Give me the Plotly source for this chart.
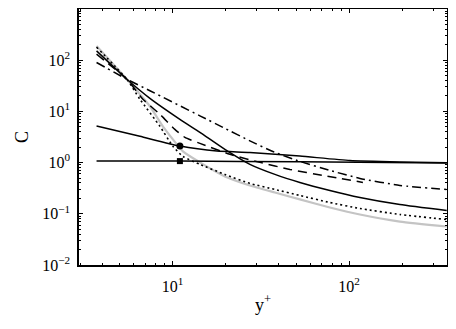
import plotly.graph_objects as go

# ---- data ----
gray_x = [3.71, 5.51, 7.44, 8.81, 11.44, 14.28, 19.78, 27.40, 37.96, 52.58, 77.75, 115.0, 193.7, 357.0]
gray_y = [190, 42.5, 12.6, 5.1, 1.66, 1.01, 0.537, 0.358, 0.261, 0.191, 0.133, 0.0969, 0.0706, 0.0564]

dot_x = [3.71, 5.51, 6.53, 8.48, 10.04, 11.44, 14.28, 19.78, 27.40, 37.96, 52.58, 77.75, 115.0, 193.7, 357.0]
dot_y = [180, 42.5, 17.3, 5.1, 2.08, 1.32, 0.923, 0.588, 0.392, 0.299, 0.228, 0.166, 0.127, 0.0969, 0.0773]

solid_x = [3.71, 5.51, 7.44, 11.0, 14.28, 19.78, 27.40, 37.96, 52.58, 77.75, 115.0, 193.7, 357.0]
solid_y = [152, 42.5, 18.0, 7.0, 3.9, 1.81, 0.923, 0.588, 0.410, 0.286, 0.209, 0.152, 0.116]

dashdot_x = [3.71, 5.51, 7.44, 14.28, 19.78, 27.40, 37.96, 52.58, 77.75, 115.0, 193.7, 357.0]
dashdot_y = [90.2, 42.5, 25.3, 8.2, 4.67, 2.66, 1.58, 1.056, 0.704, 0.491, 0.358, 0.299]

dash_x = [3.71, 5.51, 6.79, 8.48, 10.30, 11.74, 14.28, 21.11, 31.22, 46.16, 70.98, 119.6]
dash_y = [131, 42.5, 17.3, 8.77, 4.46, 3.11, 2.37, 1.45, 1.01, 0.736, 0.562, 0.410]

circ_x = [3.71, 6.53, 11.0, 17.82, 27.40, 52.58, 100.9, 193.7, 357.0]
circ_y = [5.18, 3.26, 2.10, 1.68, 1.58, 1.34, 1.10, 1.03, 0.995]

sq_x = [3.71, 11.0, 52.58, 357.0]
sq_y = [1.07, 1.07, 1.04, 0.987]

circ_marker_x = [11.0]
circ_marker_y = [2.10]
sq_marker_x = [11.0]
sq_marker_y = [1.07]

y_tickvals = [1e-2, 1e-1, 1e0, 1e1, 1e2]
y_ticktext = ["10<sup>\u22122</sup>", "10<sup>\u22121</sup>", "10<sup>0</sup>", "10<sup>1</sup>", "10<sup>2</sup>"]
x_tickvals = [1e1, 1e2]
x_ticktext = ["10<sup>1</sup>", "10<sup>2</sup>"]

x_minor = [3, 4, 5, 6, 7, 8, 9, 20, 30, 40, 50, 60, 70, 80, 90, 200, 300]
y_minor = [m * 10 ** e for e in range(-2, 3) for m in range(2, 10)]

fig = go.Figure()

def add_line(x, y, color="black", width=1.5, dash="solid"):
    fig.add_trace(go.Scatter(x=x, y=y, mode="lines",
                             line=dict(color=color, width=width, dash=dash, shape="spline", smoothing=0.5),
                             showlegend=False, hoverinfo="skip"))

add_line(gray_x, gray_y, color="#c4c4c4", width=2.2)
add_line(dot_x, dot_y, dash="2px,3px", width=1.6)
add_line(solid_x, solid_y)
add_line(dashdot_x, dashdot_y, dash="9px,4px,2px,4px")
add_line(dash_x, dash_y, dash="9px,6px")
add_line(circ_x, circ_y)
add_line(sq_x, sq_y)

fig.add_trace(go.Scatter(x=circ_marker_x, y=circ_marker_y, mode="markers",
                         marker=dict(symbol="circle", size=7, color="black"), showlegend=False))
fig.add_trace(go.Scatter(x=sq_marker_x, y=sq_marker_y, mode="markers",
                         marker=dict(symbol="square", size=6, color="black"), showlegend=False))

font = "Liberation Serif, Times New Roman, serif"

# page body has an 8px margin, so the figure is sized to fit inside the 456x329 window
fig.update_layout(
    width=440, height=313,
    margin=dict(l=71, r=1, t=1, b=56),
    paper_bgcolor="white", plot_bgcolor="white",
    font=dict(family=font, color="black", size=15),
    xaxis=dict(type="log", range=[0.47, 2.554], tickmode="array", tickvals=x_tickvals, ticktext=x_ticktext,
               ticks="inside", ticklen=4, tickwidth=1, tickcolor="black", mirror="allticks",
               showline=True, linecolor="black", linewidth=1.5, showgrid=False, zeroline=False,
               automargin=False,
               ticklabelstandoff=6, tickfont=dict(size=16, family=font),
               minor=dict(tickmode="array", tickvals=x_minor, ticks="inside", ticklen=2.5,
                          tickcolor="black", showgrid=False)),
    yaxis=dict(type="log", range=[-2, 3.0], tickmode="array", tickvals=y_tickvals, ticktext=y_ticktext,
               ticks="inside", ticklen=4, tickwidth=1, tickcolor="black", mirror="allticks",
               showline=True, linecolor="black", linewidth=1.5, showgrid=False, zeroline=False,
               automargin=False,
               ticklabelstandoff=4, tickfont=dict(size=16, family=font),
               minor=dict(tickmode="array", tickvals=y_minor, ticks="inside", ticklen=2.5,
                          tickcolor="black", showgrid=False)),
    annotations=[
        dict(text="C", xref="paper", yref="paper", x=-0.155, y=0.5, showarrow=False,
             textangle=-90, font=dict(size=18, family=font), xanchor="center", yanchor="middle"),
        dict(text="y<sup>+</sup>", xref="paper", yref="paper", x=0.5, y=-0.152, showarrow=False,
             font=dict(size=18, family=font), xanchor="center", yanchor="middle"),
    ],
)

fig.write_html("out.html")
